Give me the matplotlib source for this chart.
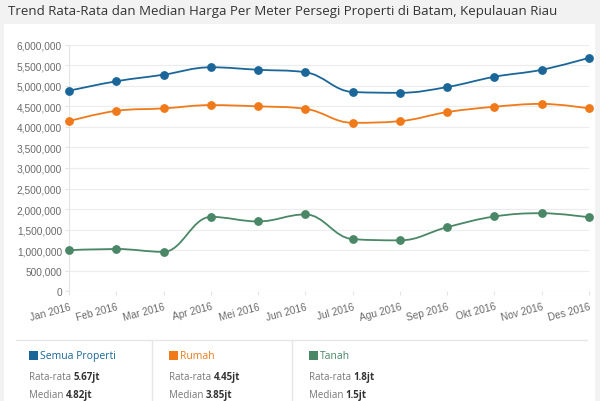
import matplotlib
matplotlib.use("Agg")
import matplotlib.pyplot as plt
from matplotlib.path import Path
from matplotlib.patches import PathPatch, Rectangle
from matplotlib.lines import Line2D
from matplotlib.ticker import FuncFormatter, MultipleLocator

# Values (Rupiah per m2)
months = ["Jan 2016", "Feb 2016", "Mar 2016", "Apr 2016", "Mei 2016", "Jun 2016",
          "Jul 2016", "Agu 2016", "Sep 2016", "Okt 2016", "Nov 2016", "Des 2016"]
semua = [4880000, 5110000, 5270000, 5450000, 5390000, 5330000,
         4850000, 4830000, 4970000, 5220000, 5390000, 5680000]
rumah = [4140000, 4390000, 4450000, 4530000, 4500000, 4440000,
         4100000, 4140000, 4360000, 4490000, 4560000, 4450000]
tanah = [1000000, 1030000, 960000, 1810000, 1700000, 1870000,
         1270000, 1240000, 1560000, 1820000, 1900000, 1800000]

series_names = ["Semua Properti", "Rumah", "Tanah"]
series_avg = ["5.67jt", "4.45jt", "1.8jt"]
series_median = ["4.82jt", "3.85jt", "1.5jt"]
colors = ["#1b6698", "#f07a1a", "#4a8766"]


def spline_path(xs, ys, smoothing=1.5):
    # Highcharts-style spline: cubic bezier segments through the data points
    denom = smoothing + 1
    n = len(xs)
    left = [None] * n
    right = [None] * n
    for i in range(1, n - 1):
        px, py = xs[i], ys[i]
        lx, ly = xs[i - 1], ys[i - 1]
        nx, ny = xs[i + 1], ys[i + 1]
        lcx = (smoothing * px + lx) / denom
        lcy = (smoothing * py + ly) / denom
        rcx = (smoothing * px + nx) / denom
        rcy = (smoothing * py + ny) / denom
        corr = (rcy - lcy) * (rcx - px) / (rcx - lcx) + py - rcy
        lcy += corr
        rcy += corr
        if lcy > ly and lcy > py:
            lcy = max(ly, py)
            rcy = 2 * py - lcy
        elif lcy < ly and lcy < py:
            lcy = min(ly, py)
            rcy = 2 * py - lcy
        if rcy > ny and rcy > py:
            rcy = max(ny, py)
            lcy = 2 * py - rcy
        elif rcy < ny and rcy < py:
            rcy = min(ny, py)
            lcy = 2 * py - rcy
        left[i] = (lcx, lcy)
        right[i] = (rcx, rcy)
    verts = [(xs[0], ys[0])]
    codes = [Path.MOVETO]
    for i in range(1, n):
        c1 = right[i - 1] or (xs[i - 1], ys[i - 1])
        c2 = left[i] or (xs[i], ys[i])
        verts += [c1, c2, (xs[i], ys[i])]
        codes += [Path.CURVE4] * 3
    return Path(verts, codes)


fig = plt.figure(figsize=(6, 4.02), dpi=100)
fig.patch.set_facecolor("#f2f2f2")
fig.patches.append(Rectangle((4 / 600, 0), 591 / 600, 377 / 402, transform=fig.transFigure,
                             facecolor="white", edgecolor="none", zorder=-5))

fig.text(8 / 600, 1 - 12 / 402, "Trend Rata-Rata dan Median Harga Per Meter Persegi Properti di Batam, Kepulauan Riau",
         fontsize=9.55, family="Open Sans", color="#333333", va="center", ha="left")

ax = fig.add_axes([69 / 600, 1 - 292.3 / 402, 520 / 600, 246.6 / 402])
ax.set_facecolor("white")
x = list(range(len(months)))
for vals, c in zip([semua, rumah, tanah], colors):
    ax.add_patch(PathPatch(spline_path(x, vals), facecolor="none", edgecolor=c, lw=1.3,
                           zorder=3, clip_on=False))
    ax.plot(x, vals, linestyle="none", marker="o", markersize=5.3, color=c, zorder=4, clip_on=False)

ax.set_xlim(0, 11)
ax.set_ylim(0, 6000000)
ax.yaxis.set_major_locator(MultipleLocator(500000))
ax.yaxis.set_major_formatter(FuncFormatter(lambda v, p: f"{int(v):,}"))
ax.grid(axis="y", color="#ececec", lw=0.8)
ax.set_axisbelow(True)
for s in ["top", "right", "bottom"]:
    ax.spines[s].set_visible(False)
ax.spines["left"].set_color("#e4e4e4")
ax.spines["left"].set_linewidth(0.8)
ax.set_xticks(x)
ax.set_xticklabels(months, rotation=15, ha="right", rotation_mode="anchor")
ax.tick_params(axis="y", length=3, color="#e4e4e4", labelsize=7.3, labelcolor="#6a6a6a", pad=2)
ax.tick_params(axis="x", length=3, color="#e4e4e4", labelsize=7.3, labelcolor="#6a6a6a", pad=4)
for lab in ax.get_xticklabels() + ax.get_yticklabels():
    lab.set_family("Liberation Sans")

# Legend panel below the chart
fig.add_artist(Line2D([16 / 600, 587 / 600], [1 - 341 / 402] * 2, color="#e6e6e6", lw=1))
for xs_ in [152, 292]:
    fig.add_artist(Line2D([xs_ / 600] * 2, [0, 1 - 341 / 402], color="#e6e6e6", lw=1))

renderer = fig.canvas.get_renderer()
starts = [29, 169, 309]
for i in range(3):
    x0 = starts[i]
    fig.patches.append(Rectangle((x0 / 600, 1 - 361 / 402), 9 / 600, 9 / 402, transform=fig.transFigure,
                                 facecolor=colors[i], edgecolor="none"))
    fig.text((x0 + 11) / 600, 1 - 357 / 402, series_names[i], fontsize=7.5, family="Open Sans",
             color=colors[i], va="center", ha="left")
    for y_px, label, val in [(378, "Rata-rata ", series_avg[i]), (396, "Median ", series_median[i])]:
        t = fig.text(x0 / 600, 1 - y_px / 402, label, fontsize=7.0, family="Open Sans",
                     color="#777777", va="center", ha="left")
        w = t.get_window_extent(renderer).width
        fig.text((x0 + w) / 600, 1 - y_px / 402, val, fontsize=7.0, family="Open Sans",
                 color="#333333", va="center", ha="left", fontweight="bold")

fig.savefig("out.png", dpi=100)
